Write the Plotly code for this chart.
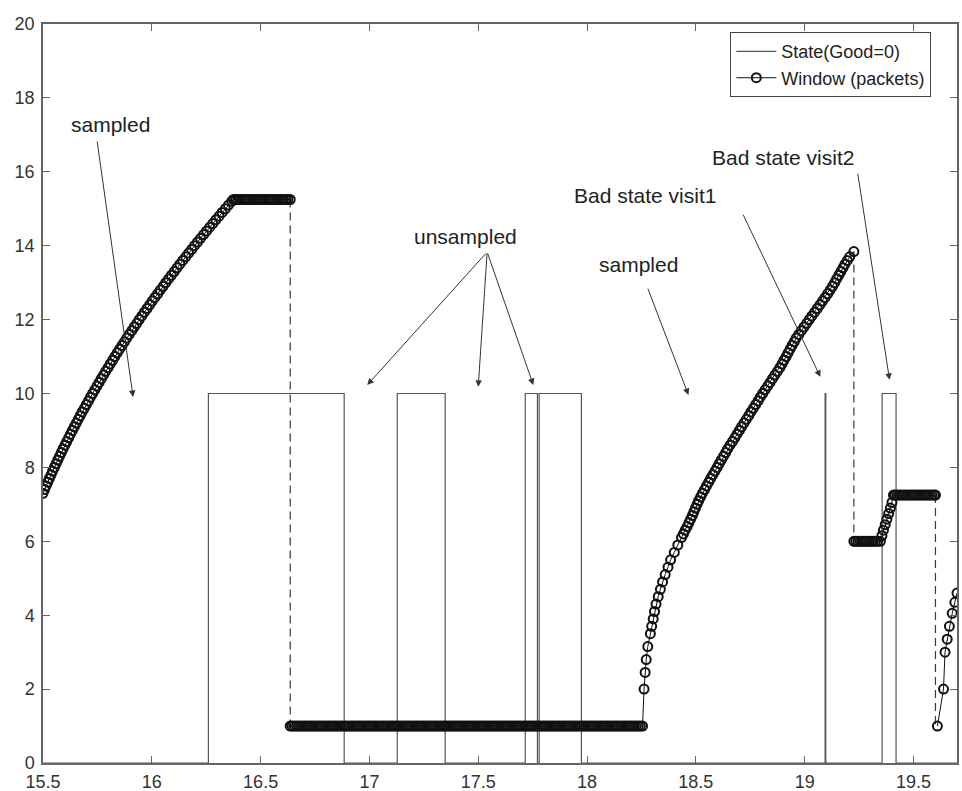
import plotly.graph_objects as go

# ---------------- data ----------------
# channel state (0 = good, 10 = bad), step function: value holds until next time
state_t = [15.5, 16.26, 16.884, 17.128, 17.348, 17.716, 17.772, 17.780, 17.974,
           19.094, 19.097, 19.356, 19.420, 19.7]
state_v = [0, 10, 0, 10, 0, 10, 0, 10, 0, 10, 0, 10, 0, 0]

# window (packets), segment A: growth then hold
rise1_x = [15.500, 15.507, 15.514, 15.522, 15.529, 15.537, 15.544, 15.552, 15.560, 15.568,
           15.576, 15.584, 15.592, 15.601, 15.609, 15.618, 15.626, 15.635, 15.644, 15.653,
           15.662, 15.671, 15.680, 15.690, 15.699, 15.709, 15.718, 15.728, 15.738, 15.748,
           15.758, 15.768, 15.778, 15.788, 15.799, 15.809, 15.820, 15.830, 15.841, 15.852,
           15.863, 15.874, 15.885, 15.896, 15.908, 15.919, 15.931, 15.942, 15.954, 15.966,
           15.978, 15.990, 16.002, 16.014, 16.027, 16.039, 16.052, 16.064, 16.077, 16.090,
           16.103, 16.116, 16.129, 16.142, 16.156, 16.169, 16.183, 16.196, 16.210, 16.224,
           16.238, 16.252, 16.266, 16.280, 16.294, 16.309, 16.323, 16.338, 16.352, 16.367,
           16.375]
rise1_y = [7.3, 7.4, 7.5, 7.6, 7.7, 7.8, 7.9, 8.0, 8.1, 8.2,
           8.3, 8.4, 8.5, 8.6, 8.7, 8.8, 8.9, 9.0, 9.1, 9.2,
           9.3, 9.4, 9.5, 9.6, 9.7, 9.8, 9.9, 10.0, 10.1, 10.2,
           10.3, 10.4, 10.5, 10.6, 10.7, 10.8, 10.9, 11.0, 11.1, 11.2,
           11.3, 11.4, 11.5, 11.6, 11.7, 11.8, 11.9, 12.0, 12.1, 12.2,
           12.3, 12.4, 12.5, 12.6, 12.7, 12.8, 12.9, 13.0, 13.1, 13.2,
           13.3, 13.4, 13.5, 13.6, 13.7, 13.8, 13.9, 14.0, 14.1, 14.2,
           14.3, 14.4, 14.5, 14.6, 14.7, 14.8, 14.9, 15.0, 15.1, 15.2,
           15.25]
hold1_x = [16.385, 16.395, 16.405, 16.415, 16.425, 16.435, 16.445, 16.455, 16.465, 16.475,
           16.485, 16.495, 16.505, 16.515, 16.525, 16.535, 16.545, 16.555, 16.565, 16.575,
           16.585, 16.595, 16.605, 16.615, 16.625, 16.636]
hold1_y = [15.25, 15.25, 15.25, 15.25, 15.25, 15.25, 15.25, 15.25, 15.25, 15.25,
           15.25, 15.25, 15.25, 15.25, 15.25, 15.25, 15.25, 15.25, 15.25, 15.25,
           15.25, 15.25, 15.25, 15.25, 15.25, 15.25]

# segment B: long hold at 1, then growth
hold2_x = [16.636,
           16.645, 16.655, 16.665, 16.675, 16.685, 16.695, 16.705, 16.715, 16.725, 16.735,
           16.745, 16.755, 16.765, 16.775, 16.785, 16.795, 16.805, 16.815, 16.825, 16.835,
           16.845, 16.855, 16.865, 16.875, 16.885, 16.895, 16.905, 16.915, 16.925, 16.935,
           16.945, 16.955, 16.965, 16.975, 16.985, 16.995, 17.005, 17.015, 17.025, 17.035,
           17.045, 17.055, 17.065, 17.075, 17.085, 17.095, 17.105, 17.115, 17.125, 17.135,
           17.145, 17.155, 17.165, 17.175, 17.185, 17.195, 17.205, 17.215, 17.225, 17.235,
           17.245, 17.255, 17.265, 17.275, 17.285, 17.295, 17.305, 17.315, 17.325, 17.335,
           17.345, 17.355, 17.365, 17.375, 17.385, 17.395, 17.405, 17.415, 17.425, 17.435,
           17.445, 17.455, 17.465, 17.475, 17.485, 17.495, 17.505, 17.515, 17.525, 17.535,
           17.545, 17.555, 17.565, 17.575, 17.585, 17.595, 17.605, 17.615, 17.625, 17.635,
           17.645, 17.655, 17.665, 17.675, 17.685, 17.695, 17.705, 17.715, 17.725, 17.735,
           17.745, 17.755, 17.765, 17.775, 17.785, 17.795, 17.805, 17.815, 17.825, 17.835,
           17.845, 17.855, 17.865, 17.875, 17.885, 17.895, 17.905, 17.915, 17.925, 17.935,
           17.945, 17.955, 17.965, 17.975, 17.985, 17.995, 18.005, 18.015, 18.025, 18.035,
           18.045, 18.055, 18.065, 18.075, 18.085, 18.095, 18.105, 18.115, 18.125, 18.135,
           18.145, 18.155, 18.165, 18.175, 18.185, 18.195, 18.205, 18.215, 18.225, 18.235,
           18.245, 18.255]
hold2_y = [1,
           1, 1, 1, 1, 1, 1, 1, 1, 1, 1,
           1, 1, 1, 1, 1, 1, 1, 1, 1, 1,
           1, 1, 1, 1, 1, 1, 1, 1, 1, 1,
           1, 1, 1, 1, 1, 1, 1, 1, 1, 1,
           1, 1, 1, 1, 1, 1, 1, 1, 1, 1,
           1, 1, 1, 1, 1, 1, 1, 1, 1, 1,
           1, 1, 1, 1, 1, 1, 1, 1, 1, 1,
           1, 1, 1, 1, 1, 1, 1, 1, 1, 1,
           1, 1, 1, 1, 1, 1, 1, 1, 1, 1,
           1, 1, 1, 1, 1, 1, 1, 1, 1, 1,
           1, 1, 1, 1, 1, 1, 1, 1, 1, 1,
           1, 1, 1, 1, 1, 1, 1, 1, 1, 1,
           1, 1, 1, 1, 1, 1, 1, 1, 1, 1,
           1, 1, 1, 1, 1, 1, 1, 1, 1, 1,
           1, 1, 1, 1, 1, 1, 1, 1, 1, 1,
           1, 1, 1, 1, 1, 1, 1, 1, 1, 1,
           1, 1]
rise2_x = [18.262, 18.267, 18.272, 18.279, 18.291, 18.297, 18.304, 18.310, 18.317, 18.327,
           18.337, 18.347, 18.359, 18.372, 18.384, 18.401, 18.417, 18.434,
           18.443, 18.451, 18.460, 18.468, 18.476, 18.484, 18.491, 18.498, 18.506, 18.513,
           18.522, 18.530, 18.540, 18.549, 18.559, 18.568, 18.578, 18.588, 18.598, 18.607,
           18.617, 18.627, 18.637, 18.646, 18.657, 18.668, 18.679, 18.689, 18.700, 18.710,
           18.721, 18.732, 18.743, 18.753, 18.764, 18.775, 18.786, 18.796, 18.807, 18.818,
           18.830, 18.841, 18.852, 18.863, 18.875, 18.886, 18.896, 18.905, 18.915, 18.924,
           18.933, 18.942, 18.952, 18.961, 18.973, 18.985, 18.997, 19.009, 19.021, 19.033,
           19.046, 19.058, 19.070, 19.082, 19.094, 19.106, 19.117, 19.128, 19.138, 19.147,
           19.157, 19.166, 19.176, 19.185, 19.196, 19.207, 19.226]
rise2_y = [2.0, 2.45, 2.8, 3.15, 3.5, 3.7, 3.9, 4.1, 4.3, 4.5,
           4.7, 4.9, 5.1, 5.3, 5.5, 5.7, 5.9, 6.1,
           6.2, 6.3, 6.4, 6.5, 6.6, 6.7, 6.8, 6.9, 7.0, 7.1,
           7.2, 7.3, 7.4, 7.5, 7.6, 7.7, 7.8, 7.9, 8.0, 8.1,
           8.2, 8.3, 8.4, 8.5, 8.6, 8.7, 8.8, 8.9, 9.0, 9.1,
           9.2, 9.3, 9.4, 9.5, 9.6, 9.7, 9.8, 9.9, 10.0, 10.1,
           10.2, 10.3, 10.4, 10.5, 10.6, 10.7, 10.8, 10.9, 11.0, 11.1,
           11.2, 11.3, 11.4, 11.5, 11.6, 11.7, 11.8, 11.9, 12.0, 12.1,
           12.2, 12.3, 12.4, 12.5, 12.6, 12.7, 12.8, 12.9, 13.0, 13.1,
           13.2, 13.3, 13.4, 13.5, 13.6, 13.7, 13.84]

# segment C: hold at 6, small increase, hold
hold3_x = [19.226, 19.235, 19.245, 19.255, 19.265, 19.275, 19.285, 19.295, 19.305, 19.315,
           19.325, 19.335, 19.348]
hold3_y = [6.0, 6.0, 6.0, 6.0, 6.0, 6.0, 6.0, 6.0, 6.0, 6.0, 6.0, 6.0, 6.0]
rise3_x = [19.355, 19.362, 19.370, 19.378, 19.386, 19.394, 19.401, 19.408]
rise3_y = [6.15, 6.3, 6.45, 6.6, 6.75, 6.9, 7.05, 7.25]
hold4_x = [19.415, 19.425, 19.435, 19.445, 19.455, 19.465, 19.475, 19.485, 19.495, 19.505,
           19.515, 19.525, 19.535, 19.545, 19.555, 19.565, 19.575, 19.585, 19.595, 19.601]
hold4_y = [7.25, 7.25, 7.25, 7.25, 7.25, 7.25, 7.25, 7.25, 7.25, 7.25,
           7.25, 7.25, 7.25, 7.25, 7.25, 7.25, 7.25, 7.25, 7.25, 7.25]

# segment D: restart after last drop
tail_x = [19.61, 19.638, 19.645, 19.655, 19.665, 19.678, 19.69, 19.70]
tail_y = [1.0, 2.0, 3.0, 3.35, 3.7, 4.05, 4.35, 4.6]

# window drops (drawn dashed)
drop_t = [16.636, 19.226, 19.601]
drop_from = [15.25, 13.84, 7.25]
drop_to = [1.0, 6.0, 1.0]

x_ticks = [15.5, 16, 16.5, 17, 17.5, 18, 18.5, 19, 19.5]
x_tick_text = ["15.5", "16", "16.5", "17", "17.5", "18", "18.5", "19", "19.5"]
y_ticks = [0, 2, 4, 6, 8, 10, 12, 14, 16, 18, 20]

labels = ["sampled", "unsampled", "sampled", "Bad state visit1", "Bad state visit2"]

# ---------------- figure ----------------
FONT = "Liberation Sans, Arial, Helvetica, sans-serif"

win_x = (rise1_x + hold1_x + [None] + hold2_x + rise2_x + [None]
         + hold3_x + rise3_x + hold4_x + [None] + tail_x)
win_y = (rise1_y + hold1_y + [None] + hold2_y + rise2_y + [None]
         + hold3_y + rise3_y + hold4_y + [None] + tail_y)

dash_x, dash_y = [], []
for t, a, b in zip(drop_t, drop_from, drop_to):
    dash_x += [t, t, None]
    dash_y += [a, b, None]

fig = go.Figure()
fig.add_trace(go.Scatter(
    x=state_t, y=state_v, mode="lines", line_shape="hv",
    line=dict(color="#555555", width=1.2), name="State(Good=0)"))
fig.add_trace(go.Scatter(
    x=dash_x, y=dash_y, mode="lines", showlegend=False,
    line=dict(color="#3a3a3a", width=1.2, dash="8px,5px")))
fig.add_trace(go.Scatter(
    x=win_x, y=win_y, mode="lines+markers", name="Window (packets)",
    line=dict(color="#111111", width=1),
    marker=dict(symbol="circle-open", size=9, color="#111111",
                line=dict(width=2, color="#111111"))))

# text labels
label_pos = [(15.808, 17.27), (17.44, 14.24), (18.236, 13.48), (18.268, 15.35), (18.902, 16.40)]
for txt, (lx, ly) in zip(labels, label_pos):
    fig.add_annotation(x=lx, y=ly, text=txt, showarrow=False,
                       font=dict(family=FONT, size=21, color="#222222"))

# arrows: (tail_x, tail_y, tip_x, tip_y)
arrows = [
    (15.748, 16.86, 15.914, 9.905),
    (17.541, 13.83, 16.990, 10.23),
    (17.541, 13.83, 17.500, 10.18),
    (17.541, 13.83, 17.753, 10.23),
    (18.277, 12.88, 18.466, 9.96),
    (18.714, 14.88, 19.072, 10.45),
    (19.243, 15.99, 19.390, 10.37),
]
for ax_, ay_, tx, ty in arrows:
    fig.add_annotation(x=tx, y=ty, ax=ax_, ay=ay_, xref="x", yref="y",
                       axref="x", ayref="y", text="", showarrow=True,
                       arrowhead=2, arrowsize=1.3, arrowwidth=1,
                       arrowcolor="#333333", standoff=0, startstandoff=0)

axis_common = dict(showline=True, linecolor="#666666", linewidth=1.5, mirror="ticks",
                   ticks="inside", ticklen=7, tickwidth=1, tickcolor="#666666",
                   showgrid=False, zeroline=False, automargin=False,
                   tickfont=dict(family=FONT, size=18, color="#333333"))

fig.update_xaxes(range=[15.5, 19.7], tickvals=x_ticks, ticktext=x_tick_text,
                 ticklabelstandoff=2, **axis_common)
fig.update_yaxes(range=[0, 20], tickvals=y_ticks, ticklabelstandoff=3, **axis_common)

fig.update_layout(
    width=962, height=791,
    margin=dict(l=43, r=5, t=24, b=28),
    paper_bgcolor="white", plot_bgcolor="white",
    font=dict(family=FONT, size=14, color="#222222"),
    showlegend=True,
    legend=dict(x=0.752, y=0.989, xanchor="left", yanchor="top",
                bgcolor="white", bordercolor="#444444", borderwidth=1,
                font=dict(family=FONT, size=18, color="#222222"),
                tracegroupgap=0, itemwidth=40),
)

fig.write_html("out.html")
